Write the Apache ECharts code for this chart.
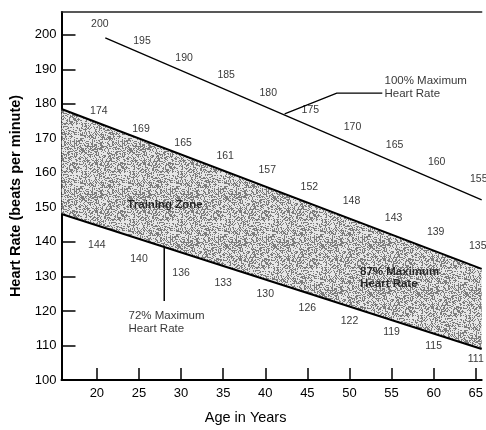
<!DOCTYPE html>
<html><head><meta charset="utf-8">
<script src="https://cdn.jsdelivr.net/npm/echarts@6/dist/echarts.min.js"></script>
<style>html,body{margin:0;padding:0;background:#fff}#c{width:486px;height:430px}</style>
</head><body><div id="c"></div>
<script>
// ---- data ----
const ages   = [20, 25, 30, 35, 40, 45, 50, 55, 60, 65];
const maxHR  = [200, 195, 190, 185, 180, 175, 170, 165, 160, 155];
const hr87   = [174, 169, 165, 161, 157, 152, 148, 143, 139, 135];
const hr72   = [144, 140, 136, 133, 130, 126, 122, 119, 115, 111];
const xTicks = [20, 25, 30, 35, 40, 45, 50, 55, 60, 65];
const yTicks = [100, 110, 120, 130, 140, 150, 160, 170, 180, 190, 200];
// drawn straight lines, read at their ends (age, bpm)
const line100 = [[21.0, 199.1], [65.7, 152.2]];
const line87  = [[15.8, 178.5], [65.7, 132.2]];
const line72  = [[15.8, 148.1], [65.7, 109.0]];
// annotation leaders and anchors (age, bpm)
const leader100 = [[42.3, 177.1], [48.5, 183.1], [53.9, 183.1]];
const leader72  = [[28.0, 138.3], [28.0, 122.9]];
const note100At = [54.1, 184.7];
const noteZoneAt = [28.1, 150.7];
const note87At = [51.2, 129.5];
const note72At = [23.7, 116.8];

const FONT = 'Liberation Sans, Arial, sans-serif';
const INK = '#000';

function makePattern() {
  const n = 48;
  const c = document.createElement('canvas');
  c.width = n; c.height = n;
  const ctx = c.getContext('2d');
  const img = ctx.createImageData(n, n);
  for (let y = 0; y < n; y++) for (let x = 0; x < n; x++) {
    let h = Math.imul(x + 17, 374761393) ^ Math.imul(y + 31, 668265263);
    h = Math.imul(h ^ (h >>> 13), 1274126177);
    h = (h ^ (h >>> 16)) >>> 0;
    const dark = (h % 100) < 42;
    const v = dark ? 125 : 230;
    const i = (y * n + x) * 4;
    img.data[i] = v; img.data[i + 1] = v; img.data[i + 2] = v; img.data[i + 3] = 255;
  }
  ctx.putImageData(img, 0, 0);
  return c;
}
const pattern = { image: makePattern(), repeat: 'repeat' };

function valueLabels(vals, offset) {
  return {
    type: 'scatter', symbolSize: 1, silent: true, z: 6,
    itemStyle: { color: 'rgba(0,0,0,0)' },
    data: ages.map((a, i) => [a, vals[i]]),
    label: {
      show: true, position: 'inside', offset: offset,
      formatter: p => String(p.value[1]),
      fontFamily: FONT, fontSize: 10.5, color: '#000'
    }
  };
}

function note(at, text, opts) {
  return {
    type: 'scatter', symbolSize: 1, silent: true, z: 7,
    itemStyle: { color: 'rgba(0,0,0,0)' },
    data: [at],
    label: Object.assign({
      show: true, formatter: text, fontFamily: FONT, color: INK
    }, opts)
  };
}

function plainLine(data, width) {
  return { type: 'line', symbol: 'none', z: 4, silent: true, data: data, lineStyle: { color: INK, width: width } };
}

const chart = echarts.init(document.getElementById('c'), null, { renderer: 'canvas' });
const option = {
  animation: false,
  backgroundColor: '#fff',
  grid: { left: 61.5, right: 0, top: 12, bottom: 46 },
  xAxis: [{
    type: 'value', min: 15.8, max: 65.7, position: 'bottom',
    axisLine: { show: true, onZero: false, lineStyle: { color: INK, width: 2 } },
    axisTick: { show: true, inside: true, length: 12, customValues: xTicks, lineStyle: { color: INK, width: 1.5 } },
    axisLabel: { customValues: xTicks, margin: 7, fontSize: 13, color: INK, fontFamily: FONT },
    splitLine: { show: false },
    name: 'Age in Years', nameLocation: 'middle', nameGap: 30,
    nameTextStyle: { fontSize: 14.5, color: INK, fontFamily: FONT, padding: [0, 52, 0, 0] }
  }, {
    type: 'value', min: 15.8, max: 65.7, position: 'top',
    axisLine: { show: true, onZero: false, lineStyle: { color: '#222', width: 1.5 } },
    axisTick: { show: false }, axisLabel: { show: false }, splitLine: { show: false }
  }],
  yAxis: {
    type: 'value', min: 100, max: 206.6,
    axisLine: { show: true, onZero: false, lineStyle: { color: INK, width: 2 } },
    axisTick: { show: true, inside: true, length: 14, customValues: yTicks, lineStyle: { color: INK, width: 1.5 } },
    axisLabel: { customValues: yTicks, margin: 5, fontSize: 13, color: INK, fontFamily: FONT },
    splitLine: { show: false },
    name: 'Heart Rate (beats per minute)', nameLocation: 'middle', nameGap: 37, nameRotate: 90,
    nameTextStyle: { fontSize: 14.5, fontWeight: 'bold', color: INK, fontFamily: FONT }
  },
  series: [
    { // shaded training zone between the 87% and 72% lines
      type: 'custom', z: 2, silent: true,
      data: [[line87[0][0], line87[0][1]]],
      renderItem: function (params, api) {
        const pts = line87.map(p => api.coord(p))
          .concat(line72.slice().reverse().map(p => api.coord(p)));
        return { type: 'polygon', shape: { points: pts }, style: { fill: pattern, stroke: null } };
      }
    },
    plainLine(line72, 2),
    plainLine(line87, 2),
    plainLine(line100, 1.3),
    plainLine(leader100, 1.2),
    plainLine(leader72, 1.5),
    valueLabels(maxHR, [3, -11]),
    valueLabels(hr87, [2, -13]),
    valueLabels(hr72, [0, 17.5]),
    note(note100At, '100% Maximum\nHeart Rate', { position: 'right', distance: 0, align: 'left', verticalAlign: 'middle', fontSize: 11.5, lineHeight: 13 }),
    note(noteZoneAt, 'Training Zone', { position: 'inside', fontSize: 11.5, fontWeight: 'bold' }),
    note(note87At, '87% Maximum\nHeart Rate', { position: 'right', distance: 0, align: 'left', verticalAlign: 'middle', fontSize: 11.5, fontWeight: 'bold', lineHeight: 12 }),
    note(note72At, '72% Maximum\nHeart Rate', { position: 'right', distance: 0, align: 'left', verticalAlign: 'middle', fontSize: 11.5, lineHeight: 13 })
  ]
};
chart.setOption(option);
</script>
</body></html>
